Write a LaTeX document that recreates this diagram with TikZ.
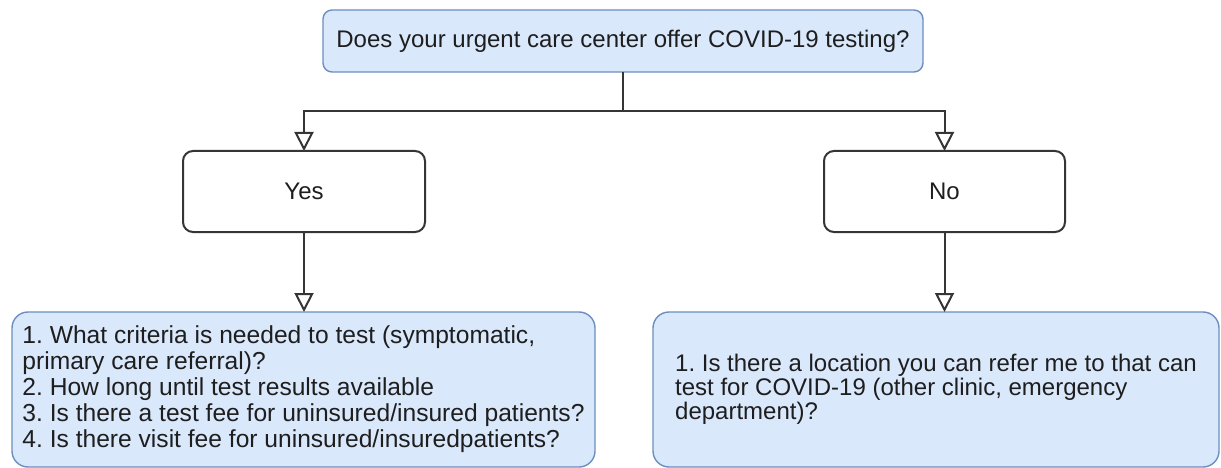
\documentclass[tikz,border=0pt]{standalone}
\usepackage{fontspec}
\setmainfont{Liberation Sans}
\usetikzlibrary{arrows.meta}
\definecolor{bluefill}{HTML}{DAE8FC}
\definecolor{blueline}{HTML}{6C8EBF}
\definecolor{ink}{HTML}{1E1E1E}
\begin{document}
\begin{tikzpicture}[x=1pt,y=-1pt,
  every node/.style={inner sep=0pt, outer sep=0pt, text=ink, font=\fontsize{24}{24}\selectfont\frenchspacing},
  bluebox/.style={draw=blueline, fill=bluefill, line width=1.4pt},
  choicebox/.style={draw=ink!90, fill=white, line width=2pt, rounded corners=10pt,
    minimum height=81pt},
  conn/.style={draw=ink!90, line width=2pt,
    -{Triangle[open, length=19pt, width=19pt, fill=white]}}
]
\useasboundingbox (0,0) rectangle (1221,468);

\node[bluebox, rounded corners=9pt, minimum width=600pt, minimum height=62pt] (q) at (623,41)
  {Does your urgent care center offer COVID-19 testing?};

\node[choicebox, minimum width=242pt] (yes) at (304,191.5) {Yes};
\node[choicebox, minimum width=241pt] (no) at (944.5,191.5) {No};

\node[bluebox, rounded corners=16pt, minimum width=583pt, minimum height=155pt,
  align=left, font=\fontsize{24.6}{26}\selectfont\frenchspacing] (yesinfo) at (303.5,389.5)
  {1. What criteria is needed to test (symptomatic,\\
   primary care referral)?\\
   2. How long until test results available\\
   3. Is there a test fee for uninsured/insured patients?\\
   4. Is there visit fee for uninsured/insuredpatients?};

\node[bluebox, rounded corners=16pt, minimum width=566pt, minimum height=155pt,
  align=left] (noinfo) at (936,389.5)
  {1. Is there a location you can refer me to that can\\
   test for COVID-19 (other clinic, emergency\\
   department)?};

\draw[conn] (q.south) -- ++(0,39) -| (yes.north);
\draw[conn] (q.south) -- ++(0,39) -| (no.north);
\draw[conn] (yes.south) -- (yes.south |- yesinfo.north);
\draw[conn] (no.south) -- (no.south |- noinfo.north);
\end{tikzpicture}
\end{document}
